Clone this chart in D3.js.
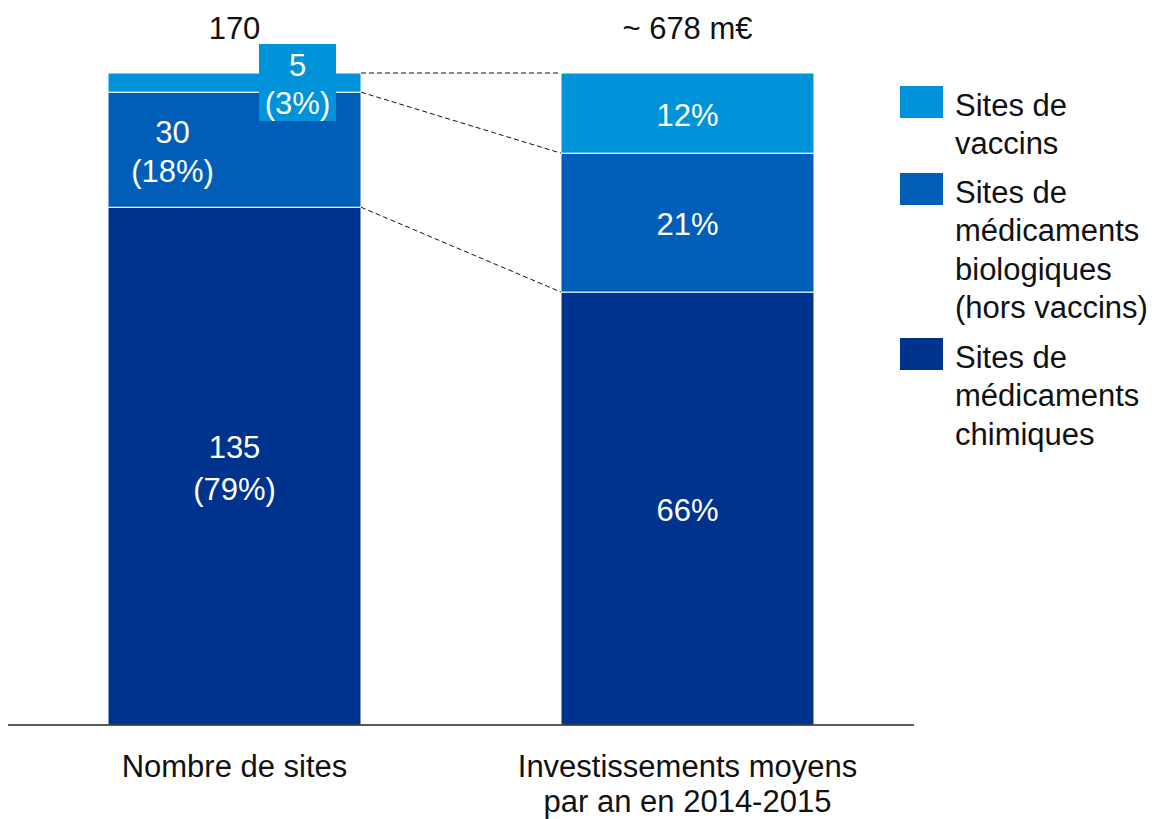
<!DOCTYPE html>
<html><head><meta charset="utf-8">
<script src="https://cdn.jsdelivr.net/npm/d3@7"></script>
<style>body{margin:0;background:#fff}svg{display:block;font-family:"Liberation Sans",Arial,sans-serif}</style>
</head><body><svg id="c" width="1155" height="819"></svg>
<script>
const categories = ["Nombre de sites", "Investissements moyens|par an en 2014-2015"];
const totalLabels = ["170", "~ 678 m€"];
const segmentKeys = ["chimiques", "biologiques", "vaccins"];
const legendLabels = [
  ["Sites de", "vaccins"],
  ["Sites de", "médicaments", "biologiques", "(hors vaccins)"],
  ["Sites de", "médicaments", "chimiques"]
];
const legendKeys = ["vaccins", "biologiques", "chimiques"];
const siteCounts = [135, 30, 5];
const sitePctLabels = ["79%", "18%", "3%"];
const investShares = [66.4, 21.3, 12.3];
const investPctLabels = ["66%", "21%", "12%"];
const colors = {vaccins: "#0093d9", biologiques: "#005eb8", chimiques: "#00338d"};

const svg = d3.select("#c");
const fs = 31;

function toRow(vals) {
  const s = d3.sum(vals); const r = {};
  segmentKeys.forEach((k, i) => r[k] = vals[i] / s);
  return r;
}
const rows = [toRow(siteCounts), toRow(investShares)];
const series = d3.stack().keys(segmentKeys)(rows);

const x = d3.scaleBand().domain(categories).range([8, 914]).paddingInner(0.4415).paddingOuter(0.2208);
const y = d3.scaleLinear().domain([0, 1]).range([725, 73]);

// bars
series.forEach(s => {
  svg.selectAll(null).data(s).enter().append("rect")
    .attr("x", (d, i) => x(categories[i]))
    .attr("width", x.bandwidth())
    .attr("y", d => y(d[1]))
    .attr("height", d => y(d[0]) - y(d[1]))
    .attr("fill", colors[s.key])
    .attr("stroke", "#fff").attr("stroke-width", 1);
});

// connecting dashed lines
const x0 = x(categories[0]) + x.bandwidth(), x1 = x(categories[1]);
series.forEach(s => {
  svg.append("line").attr("x1", x0).attr("x2", x1)
    .attr("y1", y(s[0][1])).attr("y2", y(s[1][1]))
    .attr("stroke", "#111").attr("stroke-width", 1).attr("stroke-dasharray", "5,3");
});

// baseline
svg.append("line").attr("x1", 8).attr("x2", 914).attr("y1", 725).attr("y2", 725)
  .attr("stroke", "#222").attr("stroke-width", 1.5);

const lc = x(categories[0]) + x.bandwidth() / 2;
function twoLine(cx, cy, a, b, color, gap) {
  const t = svg.append("text").attr("text-anchor", "middle").attr("fill", color).attr("font-size", fs);
  t.append("tspan").attr("x", cx).attr("y", cy - gap / 2).attr("dy", "0.35em").text(a);
  t.append("tspan").attr("x", cx).attr("y", cy + gap / 2).attr("dy", "0.35em").text(b);
}
// chimiques
{
  const s = series[0][0];
  twoLine(lc, (y(s[0]) + y(s[1])) / 2 + 2, siteCounts[0], "(" + sitePctLabels[0] + ")", "#fff", 42);
}
// biologiques (shifted left to leave room for the vaccins callout)
{
  const s = series[1][0];
  twoLine(lc - 62, (y(s[0]) + y(s[1])) / 2 + 2, siteCounts[1], "(" + sitePctLabels[1] + ")", "#fff", 39);
}
// vaccins callout box
{
  const s = series[2][0];
  const bx = lc + 63, top = y(s[1]) - 29;
  svg.append("rect").attr("x", bx - 38.5).attr("y", top).attr("width", 77).attr("height", 77).attr("fill", colors.vaccins);
  twoLine(bx, top + 40, siteCounts[2], "(" + sitePctLabels[2] + ")", "#fff", 38);
}
// right bar labels
const rc = x(categories[1]) + x.bandwidth() / 2;
series.forEach((s, i) => {
  const d = s[1];
  svg.append("text").attr("x", rc).attr("y", (y(d[0]) + y(d[1])) / 2 + 2).attr("dy", "0.35em")
    .attr("text-anchor", "middle").attr("fill", "#fff").attr("font-size", fs).text(investPctLabels[i]);
});

// totals
categories.forEach((c, i) => {
  svg.append("text").attr("x", x(c) + x.bandwidth() / 2).attr("y", 28).attr("dy", "0.35em")
    .attr("text-anchor", "middle").attr("fill", "#111").attr("font-size", fs).text(totalLabels[i]);
});

// category labels
categories.forEach(c => {
  const t = svg.append("text").attr("text-anchor", "middle").attr("fill", "#111").attr("font-size", fs);
  c.split("|").forEach((line, j) => {
    t.append("tspan").attr("x", x(c) + x.bandwidth() / 2).attr("y", 766 + j * 35).attr("dy", "0.35em").text(line);
  });
});

// legend
const legendTops = [86, 173, 338];
legendKeys.forEach((k, i) => {
  const top = legendTops[i];
  svg.append("rect").attr("x", 900).attr("y", top).attr("width", 43).attr("height", 32).attr("fill", colors[k]);
  const t = svg.append("text").attr("fill", "#111").attr("font-size", fs);
  legendLabels[i].forEach((line, j) => {
    t.append("tspan").attr("x", 955).attr("y", top + 19 + j * 38.5).attr("dy", "0.35em").text(line);
  });
});
</script></body></html>
